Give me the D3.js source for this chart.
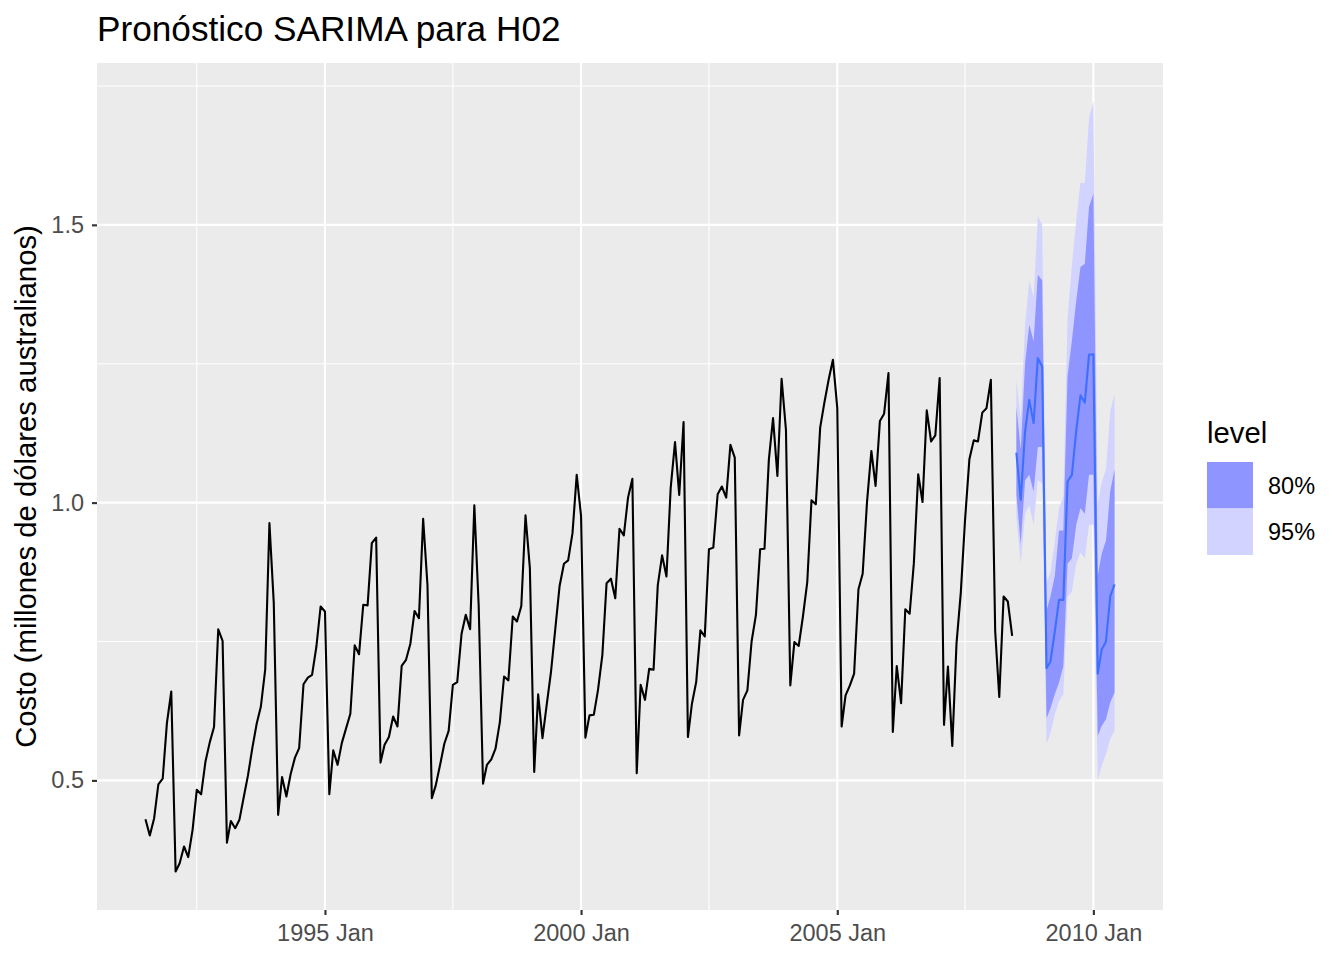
<!doctype html>
<html>
<head>
<meta charset="utf-8">
<script src="https://d3js.org/d3.v7.min.js"></script>
<style>
    body { margin: 0; background: #ffffff; }
    text { font-family: "Liberation Sans", Arial, Helvetica, sans-serif; }
</style>
</head>
<body>
<svg id="mainsvg" width="1344" height="960"></svg>
<script>
    // serie H02 mensual, desde 1991 Jul hasta 2008 Jun
    const inicio = new Date(1991, 6, 1);
    const costo = [
        0.430, 0.401, 0.432, 0.493, 0.503, 0.603,
        0.660, 0.336, 0.351, 0.381, 0.362, 0.411, 0.483, 0.475, 0.534, 0.568, 0.596, 0.772,
        0.751, 0.388, 0.427, 0.414, 0.429, 0.470, 0.509, 0.558, 0.602, 0.633, 0.700, 0.963,
        0.819, 0.438, 0.506, 0.471, 0.511, 0.541, 0.558, 0.673, 0.685, 0.690, 0.741, 0.813,
        0.804, 0.475, 0.554, 0.528, 0.567, 0.594, 0.620, 0.743, 0.727, 0.816, 0.815, 0.927,
        0.937, 0.532, 0.564, 0.578, 0.615, 0.597, 0.706, 0.717, 0.746, 0.805, 0.792, 0.971,
        0.851, 0.468, 0.491, 0.528, 0.566, 0.589, 0.672, 0.677, 0.764, 0.798, 0.772, 0.995,
        0.815, 0.494, 0.528, 0.538, 0.557, 0.605, 0.687, 0.680, 0.795, 0.786, 0.814, 0.977,
        0.882, 0.515, 0.655, 0.576, 0.636, 0.696, 0.772, 0.850, 0.890, 0.896, 0.945, 1.050,
        0.976, 0.577, 0.617, 0.618, 0.663, 0.726, 0.855, 0.863, 0.828, 0.953, 0.941, 1.009,
        1.043, 0.513, 0.672, 0.645, 0.701, 0.699, 0.851, 0.905, 0.867, 1.026, 1.109, 1.014,
        1.145, 0.578, 0.637, 0.677, 0.770, 0.759, 0.916, 0.919, 1.015, 1.029, 1.009, 1.104,
        1.081, 0.581, 0.645, 0.662, 0.750, 0.798, 0.916, 0.917, 1.077, 1.152, 1.048, 1.223,
        1.131, 0.671, 0.749, 0.742, 0.795, 0.857, 1.004, 0.997, 1.135, 1.180, 1.222, 1.257,
        1.170, 0.597, 0.653, 0.671, 0.692, 0.844, 0.872, 1.001, 1.093, 1.030, 1.147, 1.160,
        1.233, 0.587, 0.706, 0.639, 0.808, 0.800, 0.891, 1.051, 1.001, 1.166, 1.110, 1.121,
        1.224, 0.600, 0.705, 0.562, 0.746, 0.839, 0.969, 1.078, 1.112, 1.110, 1.162, 1.170,
        1.221, 0.768, 0.650, 0.831, 0.822, 0.760
    ];

    // pronostico SARIMA, 2008 Jul a 2010 Jun
    const inicioPron = new Date(2008, 6, 1);
    const media = [1.090, 1.005, 1.128, 1.185, 1.143, 1.260, 1.245, 0.702, 0.714, 0.768, 0.825, 0.825,
                   1.038, 1.050, 1.130, 1.193, 1.180, 1.266, 1.267, 0.692, 0.735, 0.750, 0.831, 0.853];
    const lo95 = [0.975, 0.890, 0.980, 0.995, 0.960, 1.040, 1.035, 0.566, 0.585, 0.618, 0.643, 0.655,
                  0.830, 0.840, 0.890, 0.910, 0.900, 0.960, 0.960, 0.500, 0.526, 0.547, 0.574, 0.589];
    const lo80 = [1.015, 0.925, 1.040, 1.050, 1.020, 1.100, 1.100, 0.612, 0.630, 0.655, 0.676, 0.706,
                  0.890, 0.900, 0.960, 0.990, 0.980, 1.050, 1.050, 0.580, 0.598, 0.610, 0.640, 0.658];
    const hi80 = [1.172, 1.095, 1.250, 1.320, 1.290, 1.410, 1.400, 0.806, 0.831, 0.868, 0.950, 0.950,
                  1.228, 1.292, 1.364, 1.424, 1.430, 1.532, 1.556, 0.868, 0.908, 0.932, 1.020, 1.060];
    const hi95 = [1.221, 1.150, 1.320, 1.400, 1.370, 1.515, 1.500, 0.856, 0.875, 0.930, 0.990, 1.011,
                  1.332, 1.428, 1.508, 1.576, 1.575, 1.692, 1.722, 0.996, 1.036, 1.060, 1.164, 1.196];

    const niveles = ["80%", "95%"];
    const coloresNivel = {"80%": "#8f95ff", "95%": "#d3d3ff"};
    const ticksX = [new Date(1995, 0, 1), new Date(2000, 0, 1), new Date(2005, 0, 1), new Date(2010, 0, 1)];
    const ticksXmenor = [new Date(1992, 6, 1), new Date(1997, 6, 1), new Date(2002, 6, 1), new Date(2007, 6, 1)];
    const ticksY = [0.5, 1.0, 1.5];
    const ticksYmenor = [0.75, 1.25, 1.75];

    function mostrar()
    {
        const hist = costo.map((v, i) => ({fecha: d3.timeMonth.offset(inicio, i), v: v}));
        const pron = media.map((v, i) => ({
            fecha: d3.timeMonth.offset(inicioPron, i),
            v: v, lo95: lo95[i], lo80: lo80[i], hi80: hi80[i], hi95: hi95[i]
        }));

        const svg = d3.select('svg');
        const margin = {top: 63, left: 97, right: 181, bottom: 50};
        const width = +svg.attr('width');
        const height = +svg.attr('height');
        const innerWidth = width - margin.left - margin.right;
        const innerHeight = height - margin.top - margin.bottom;

        // rango con expansion de 5% como ggplot
        const t0 = hist[0].fecha.getTime();
        const t1 = pron[pron.length - 1].fecha.getTime();
        const dt = (t1 - t0) * 0.05;
        const xScale = d3.scaleTime()
            .domain([new Date(t0 - dt), new Date(t1 + dt)])
            .range([0, innerWidth]);

        const ymin = d3.min([d3.min(costo), d3.min(lo95)]);
        const ymax = d3.max([d3.max(costo), d3.max(hi95)]);
        const dy = (ymax - ymin) * 0.05;
        const yScale = d3.scaleLinear()
            .domain([ymin - dy, ymax + dy])
            .range([innerHeight, 0]);

        const g = svg.append('g')
            .attr('transform', `translate(${margin.left}, ${margin.top})`);

        g.append('rect')
            .attr('width', innerWidth)
            .attr('height', innerHeight)
            .attr('fill', '#ebebeb');

        // rejilla
        ticksYmenor.forEach(t => {
            g.append('line')
                .attr('x1', 0).attr('x2', innerWidth)
                .attr('y1', yScale(t)).attr('y2', yScale(t))
                .attr('stroke', '#ffffff').attr('stroke-width', 1.07);
        });
        ticksXmenor.forEach(t => {
            g.append('line')
                .attr('x1', xScale(t)).attr('x2', xScale(t))
                .attr('y1', 0).attr('y2', innerHeight)
                .attr('stroke', '#ffffff').attr('stroke-width', 1.07);
        });
        ticksY.forEach(t => {
            g.append('line')
                .attr('x1', 0).attr('x2', innerWidth)
                .attr('y1', yScale(t)).attr('y2', yScale(t))
                .attr('stroke', '#ffffff').attr('stroke-width', 2.13);
        });
        ticksX.forEach(t => {
            g.append('line')
                .attr('x1', xScale(t)).attr('x2', xScale(t))
                .attr('y1', 0).attr('y2', innerHeight)
                .attr('stroke', '#ffffff').attr('stroke-width', 2.13);
        });

        // bandas del pronostico
        const area95 = d3.area().x(d => xScale(d.fecha)).y0(d => yScale(d.lo95)).y1(d => yScale(d.hi95));
        const area80 = d3.area().x(d => xScale(d.fecha)).y0(d => yScale(d.lo80)).y1(d => yScale(d.hi80));
        g.append('path')
            .attr('d', area95(pron))
            .attr('fill', coloresNivel["95%"]);
        g.append('path')
            .attr('d', area80(pron))
            .attr('fill', coloresNivel["80%"]);

        const linea = d3.line().x(d => xScale(d.fecha)).y(d => yScale(d.v));
        g.append('path')
            .attr('d', linea(hist))
            .attr('fill', 'none')
            .attr('stroke', '#000000')
            .attr('stroke-width', 2.1)
            .attr('stroke-linejoin', 'round');
        g.append('path')
            .attr('d', linea(pron))
            .attr('fill', 'none')
            .attr('stroke', '#3f6fff')
            .attr('stroke-width', 2.1)
            .attr('stroke-linejoin', 'round');

        // ejes
        const axisX = d3.axisBottom(xScale)
            .tickValues(ticksX)
            .tickFormat(d3.timeFormat('%Y Jan'))
            .tickSize(5)
            .tickPadding(9);
        const gx = g.append('g')
            .attr('transform', `translate(0, ${innerHeight})`)
            .call(axisX);
        gx.select('.domain').remove();
        gx.selectAll('line').attr('stroke', '#333333').attr('stroke-width', 2.13);
        gx.selectAll('text')
            .attr('fill', '#4d4d4d')
            .attr('font-size', '23.5px')
            .style('font-family', '"Liberation Sans", Arial, sans-serif');

        const axisY = d3.axisLeft(yScale)
            .tickValues(ticksY)
            .tickFormat(d3.format('.1f'))
            .tickSize(5)
            .tickPadding(8);
        const gy = g.append('g').call(axisY);
        gy.select('.domain').remove();
        gy.selectAll('line').attr('stroke', '#333333').attr('stroke-width', 2.13);
        gy.selectAll('text')
            .attr('fill', '#4d4d4d')
            .attr('font-size', '23.5px')
            .style('font-family', '"Liberation Sans", Arial, sans-serif');

        // titulos
        svg.append('text')
            .attr('x', margin.left)
            .attr('y', 41)
            .attr('font-size', '35.2px')
            .attr('fill', '#000000')
            .text('Pronóstico SARIMA para H02');

        svg.append('text')
            .attr('transform', `translate(36, ${margin.top + innerHeight / 2}) rotate(-90)`)
            .attr('text-anchor', 'middle')
            .attr('font-size', '29.3px')
            .attr('fill', '#000000')
            .text('Costo (millones de dólares australianos)');

        // leyenda
        const leg = svg.append('g').attr('transform', 'translate(1207, 420)');
        leg.append('text')
            .attr('x', 0).attr('y', 23)
            .attr('font-size', '29.3px')
            .text('level');
        niveles.forEach((n, i) => {
            leg.append('rect')
                .attr('x', 0).attr('y', 42 + i * 46.5)
                .attr('width', 46).attr('height', 46.5)
                .attr('fill', coloresNivel[n]);
            leg.append('text')
                .attr('x', 61).attr('y', 42 + i * 46.5 + 31.5)
                .attr('font-size', '23.5px')
                .text(n);
        });
    }

    mostrar();
</script>
</body>
</html>
